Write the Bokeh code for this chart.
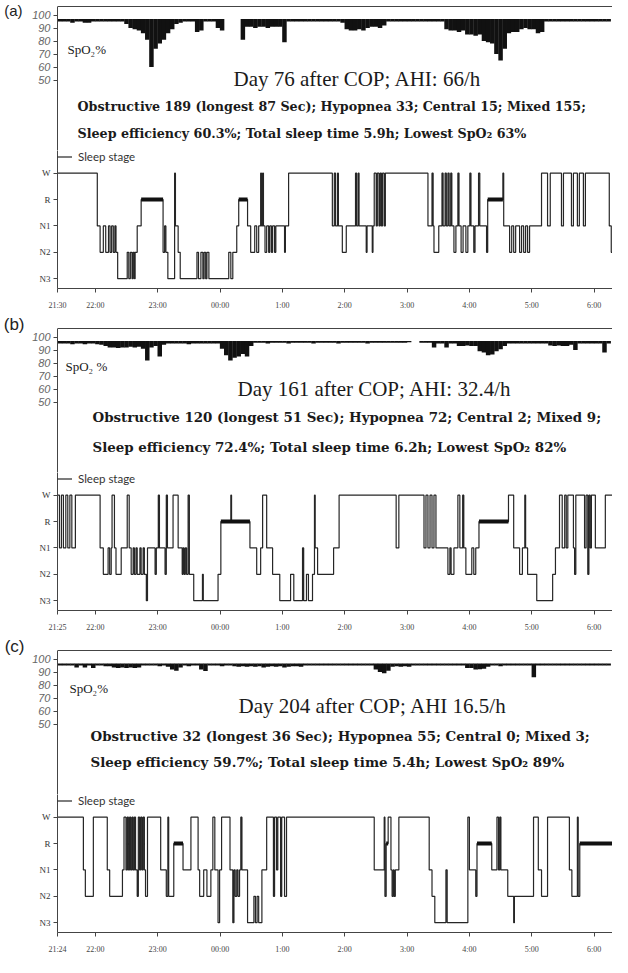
import numpy as np
from bokeh.plotting import figure
from bokeh.models import Range1d, LinearAxis, FixedTicker, Label, ColumnDataSource, Span
from bokeh.layouts import column
from bokeh.embed import file_html
from bokeh.resources import INLINE

# ---------------- data ----------------
stage_names = ["N3", "N2", "N1", "R", "W"]
spo2_ticks = [50, 60, 70, 80, 90, 100]
hour_ticks_min = [60, 120, 180, 240, 300, 360, 420, 480, 540]   # minutes after 21:00
hour_labels = ["22:00", "23:00", "00:00", "1:00", "2:00", "3:00", "4:00", "5:00", "6:00"]
start_labels = ["21:30", "21:25", "21:24"]
panel_tags = ["(a)", "(b)", "(c)"]
spo2_names = ["SpO\u2082%", "SpO\u2082 %", "SpO\u2082%"]
titles = ["Day 76 after COP; AHI: 66/h",
          "Day 161 after COP; AHI: 32.4/h",
          "Day 204 after COP; AHI 16.5/h"]
event_lines = ["Obstructive 189 (longest 87 Sec); Hypopnea 33; Central 15; Mixed 155;",
               "Obstructive 120 (longest 51 Sec); Hypopnea 72; Central 2; Mixed 9;",
               "Obstructive 32 (longest 36 Sec); Hypopnea 55; Central 0; Mixed 3;"]
summary_lines = ["Sleep efficiency 60.3%; Total sleep time 5.9h; Lowest SpO\u2082 63%",
                 "Sleep efficiency 72.4%; Total sleep time 6.2h; Lowest SpO\u2082 82%",
                 "Sleep efficiency 59.7%; Total sleep time 5.4h; Lowest SpO\u2082 89%"]

# SpO2 trace: lowest value in each 4-minute epoch, first epoch at 21:26
spo2_t0_min = 26
spo2_epoch_min = 4
nan = float("nan")
spo2_high = [97.0, 97.0, 96.6]
spo2_low_a = [95, 95, 95, 94, 95, 95, 94, 94, 95, 95, 95, 95, 95, 95, 95, 95,
              93, 90, 89, 88, 86, 81, 60, 74, 78, 81, 86, 89, 93, 94, 95, 95, 95, 87, 88, 95, 95, 95, 90, 88,
              nan, nan, nan, nan,
              81, 91, 91, 90, 91, 91, 90, 91, 91, 91, 79,
              95, 95, 95, 95, 95, 95, 95, 95, 95, 95, 95, 95, 95, 94,
              89, 88, 88, 89, 88, 90, 91, 91, 90, 92,
              95, 95, 95, 95, 95, 95, 95, 95, 95, 95, 95, 95, 95, 95,
              89, 88, 88, 87, 88, 85, 85, 84, 85, 80, 79, 78, 70, 65, 74, 86, 87, 87, 89, 90, 89, 89, 86, 87,
              95, 95, 95, 95, 95, 95, 95, 95, 95, 95, 95, 95, 95, 95, 95, 95]
spo2_low_b = [95, 95, 95, 94.5, 95, 95, 94.5, 95, 95, 94.5,
              94, 93, 92, 92, 91.5, 92, 92, 92.5, 92, 92.5, 91, 82, 92, 93, 85, 94,
              95, 95, 95, 95, 95, 94.5, 95, 95, 95, 95, 95, 95, 95,
              91, 86, 82, 84, 85, 87, 85, 93,
              95.5, 95.5, 95.5, 95, 95.5, 95.5, 95.5, 95.5, 95, 95.5, 95.5, 95.5, 95.5, 95.5, 95, 95.5,
              95.5, 95.5, 95.5, 95.5, 95, 95.5, 95.5, 95.5, 95.5, 95.5, 95.5, 95, 95.5, 95.5, 95.5, 95.5,
              95.5, 95.5, 95.5, 95.5, 95.5, 96,
              nan, nan,
              95.5, 95.5, 95.5,
              92, 95, 95, 92, 95, 95, 93, 93, 93.5, 93, 93, 89, 88, 86, 86.5, 89, 90.5, 93,
              95, 95, 95, 95, 95, 95, 95, 95, 95, 95,
              93.5, 93, 93.5, 93, 93, 94, 90,
              95, 95, 95, 95, 95, 95,
              88, 95]
spo2_low_c = [95, 95, 95, 95, 93.5, 95, 93.5, 95, 93, 95, 95, 94.5, 94.5, 93.5, 93, 93.5, 93, 93.5, 93, 93.5,
              95, 95, 95, 95, 94.5, 95, 94, 92, 91, 93.5,
              95, 94.5, 95, 95, 92, 90.7, 95, 95, 95, 94.5, 95, 95, 94.5, 94, 94.5, 94, 94.5, 94, 94.5, 93.5,
              94, 94.5, 94, 94.5, 93.5, 94, 94.5, 94.5, 94,
              95, 95, 95, 95, 95, 95, 95, 95, 95, 95, 95, 95, 95, 95, 95, 95, 95,
              92, 90, 89, 91, 94, 94.5, 94, 94.5, 94,
              95, 95, 95, 95, 95, 95, 95, 95, 95, 95, 95, 95, 95,
              93, 93, 92, 92.2, 92.5, 94,
              95, 95, 94.5, 95, 95, 95, 95, 95, 95, 95,
              86,
              95, 95, 95, 95, 95, 95, 95, 95, 95, 95, 95, 95, 95, 95, 95, 95, 95, 95]

# Hypnograms: minute (after 21:00) at which each stage begins
hyp_a_min = [23.6, 61.9, 64.6, 67.7, 70.0, 72.7, 74.2, 75.7, 77.3, 78.8, 79.9, 81.5, 90.7, 92.2, 93.7,
             95.3, 96.4, 97.6, 98.3, 100.3, 104.1, 125.2, 126.7, 127.9, 129.8, 136.3, 137.1, 139.7,
             141.7, 157.8, 159.3, 161.6, 163.5, 164.7, 166.2, 167.4, 169.3, 188.4, 190.4, 192.3, 196.1,
             198.0, 206.5, 209.5, 213.4, 215.3, 217.2, 219.1, 219.9, 221.0, 221.8, 223.3, 224.9, 226.8,
             227.9, 229.5, 230.6, 232.5, 233.7, 242.1, 242.9, 246.0, 288.1, 290.0, 291.2, 293.1, 293.9,
             297.7, 301.5, 310.4, 311.5, 313.0, 313.8, 320.7, 321.5, 326.5, 327.2, 328.4, 330.3, 331.4,
             333.0, 334.1, 335.3, 336.4, 338.0, 339.1, 380.1, 384.0, 385.1, 385.9, 390.5, 393.6, 394.7,
             396.6, 397.8, 399.3, 400.5, 402.0, 403.1, 405.1, 407.0, 408.9, 410.0, 412.0, 413.9, 416.6,
             418.5, 420.4, 421.5, 424.2, 425.4, 428.8, 430.0, 436.5, 437.6, 452.2, 453.0, 458.7, 460.7,
             462.6, 464.5, 468.3, 470.2, 472.2, 474.1, 476.0, 477.9, 489.4, 495.2, 497.8, 508.6, 510.5,
             518.2, 520.1, 523.9, 525.8, 529.7, 531.6, 554.6, 556.5]
hyp_a_stage = ["W", "N1", "N2", "N1", "N2", "N1", "N2", "N1", "N2", "N1", "N2", "N3", "N2", "N3", "N2",
               "N3", "N2", "N3", "N2", "N1", "R", "N2", "N1", "N2", "N3", "W", "N1", "N2",
               "N3", "N2", "N3", "N2", "N3", "N2", "N3", "N2", "N3", "N2", "N3", "N2", "N1",
               "R", "N1", "N2", "N1", "N2", "N1", "W", "N1", "W", "N1", "N2", "N1", "N2",
               "N1", "N2", "N1", "N2", "N1", "N2", "N1", "W", "N1", "W", "N1", "W", "N1",
               "N2", "N1", "W", "N1", "W", "N1", "N2", "N1", "N2", "N1", "W", "N1", "W",
               "N1", "W", "N1", "W", "N1", "W", "N1", "W", "N1", "N2", "N1", "W", "N1",
               "W", "N1", "W", "N1", "W", "N1", "N2", "N1", "W", "N1", "N2", "N1", "N2",
               "N1", "W", "N1", "N2", "N1", "W", "N1", "N2", "R", "W", "N1", "N2", "N1",
               "N2", "N1", "N2", "N1", "N2", "N1", "N2", "N1", "W", "N1", "W", "N1", "W",
               "N1", "W", "N1", "W", "N1", "W", "N1", "N2"]
hyp_b_min = [23.6, 25.5, 27.4, 29.3, 31.6, 33.5, 35.5, 37.4, 40.8, 64.6, 67.7, 72.3, 73.8, 75.3, 76.1,
             78.4, 79.9, 84.9, 90.7, 92.6, 94.5, 96.4, 97.6, 99.1, 100.3, 102.9, 104.1, 106.0, 107.2,
             109.1, 110.2, 117.5, 118.7, 120.6, 121.7, 127.1, 128.3, 129.4, 134.8, 139.7, 143.6, 144.4,
             145.5, 146.6, 147.8, 149.3, 150.5, 154.7, 163.1, 163.9, 178.1, 180.8, 190.4, 191.1, 208.8,
             215.3, 219.1, 221.0, 224.9, 230.6, 237.5, 247.9, 251.0, 259.4, 260.5, 263.2, 265.1, 269.0,
             270.9, 271.6, 273.9, 289.3, 294.6, 349.5, 352.1, 376.3, 378.2, 380.1, 382.1, 384.0, 385.9,
             387.8, 399.3, 401.2, 402.4, 405.1, 408.9, 410.8, 413.5, 414.6, 416.6, 422.3, 424.2, 426.1,
             429.2, 457.6, 462.6, 468.3, 471.0, 473.3, 474.1, 476.0, 484.8, 500.1, 502.8, 506.7, 509.3,
             511.7, 513.2, 514.7, 520.1, 521.2, 522.4, 530.8, 532.3, 533.9, 535.0, 536.2, 537.4, 541.2,
             550.8]
hyp_b_stage = ["W", "N1", "W", "N1", "W", "N1", "W", "N1", "W", "N1", "N2", "N1", "N2", "N1", "W",
               "N1", "N2", "N1", "W", "N1", "N2", "N1", "N2", "N1", "N2", "N1", "N2", "N1", "N2",
               "N3", "N1", "N2", "N1", "W", "N1", "N2", "W", "N1", "W", "N1", "N2", "N1",
               "N2", "N1", "N2", "W", "N2", "N3", "N2", "N3", "N2", "R", "W", "R", "N1",
               "N2", "N1", "W", "N1", "N2", "N3", "N2", "N3", "N1", "N3", "N2", "N3", "N2",
               "W", "N1", "N2", "N1", "W", "N1", "W", "N1", "W", "N1", "W", "N1", "W",
               "N1", "N2", "N1", "N2", "N1", "W", "N1", "W", "N1", "N2", "N1", "N2", "N1",
               "R", "W", "N1", "N2", "N1", "W", "N1", "N2", "N3", "N2", "N1", "W", "N1",
               "W", "N1", "W", "N1", "N2", "W", "N1", "W", "N2", "W", "N1", "W", "N1",
               "W"]
hyp_c_min = [23.6, 48.5, 50.4, 58.1, 71.5, 73.8, 86.1, 87.6, 89.5, 90.7, 91.8, 93.0, 94.1, 95.3, 96.4,
             97.6, 98.7, 100.3, 101.4, 102.6, 103.7, 104.9, 106.0, 107.2, 108.3, 110.2, 122.9, 128.3,
             129.8, 130.6, 135.5, 144.4, 152.0, 158.9, 160.4, 164.3, 167.4, 171.2, 173.1, 175.0, 178.1,
             179.6, 181.5, 189.6, 192.3, 193.4, 194.6, 196.1, 197.3, 198.8, 200.0, 201.1, 206.5, 212.6,
             214.1, 215.7, 217.2, 220.3, 224.9, 231.4, 232.5, 234.4, 235.6, 238.3, 239.4, 242.1, 244.0,
             328.4, 338.0, 338.7, 339.9, 341.8, 344.5, 345.6, 346.8, 347.6, 348.7, 352.1, 381.3, 384.0,
             386.7, 397.4, 398.6, 418.5, 420.0, 426.1, 427.3, 441.5, 446.5, 448.0, 449.2, 450.3, 456.9,
             462.6, 463.3, 481.7, 486.3, 489.4, 495.2, 516.2, 518.6, 523.9, 524.7, 526.2]
hyp_c_stage = ["W", "N1", "N2", "W", "N1", "N2", "N1", "W", "N1", "W", "N1", "W", "N1", "W", "N1",
               "W", "N1", "N2", "W", "N1", "W", "N1", "W", "N1", "N2", "W", "N1", "N2",
               "W", "N2", "R", "N1", "W", "N1", "N2", "N1", "N2", "N1", "W", "N1", "N3",
               "N1", "W", "N1", "N3", "N1", "N2", "N1", "N2", "N1", "W", "N1", "N3", "N2",
               "N3", "N2", "N3", "N1", "W", "N2", "W", "N1", "W", "N2", "W", "N2", "W",
               "N1", "W", "N2", "R", "W", "N1", "N2", "N1", "N2", "N1", "W", "N1", "N2",
               "N3", "N1", "N3", "W", "N1", "N2", "R", "N1", "W", "N1", "W", "N1", "N2",
               "N3", "N2", "W", "N1", "N2", "W", "N1", "N2", "W", "N2", "R"]
# Dense REM stretches, drawn as a heavy bar
rem_dense_start = [[104.1, 198.0, 437.6], [180.8, 429.2], [135.5, 339.9, 427.3, 526.2]]
rem_dense_end = [[125.2, 206.5, 452.2], [208.8, 457.6], [144.4, 341.8, 441.5, 560.0]]

# ---------------- layout constants (pixels / axis geometry) ----------------
X0, X1 = 23.6, 557.7          # visible time window, minutes after 21:00
FIG_W = 612
LEFT = 54
PX_PER_PCT = 1.3
TOP_PX = 8.5                  # distance from box top to the 100 % tick
SPLIT_PX = 144                # box top -> top of hypnogram panel
BOT_FRAME = 140
BOT_BORDER = 22
EXTRA_TOP = [6, 16, 16]       # room above the box for the panel letter
BOX_TOP_V = 100 + TOP_PX / PX_PER_PCT
SPLIT_V = BOX_TOP_V - SPLIT_PX / PX_PER_PCT
AX_COL = "#444444"
TXT = "#1a1a1a"
BOLD_FONT = "DejaVu Serif"
BOLD_SIZE = ["12.7px", "13.4px", "13.4px"]

spo2_lows = [spo2_low_a, spo2_low_b, spo2_low_c]
hyp_min = [hyp_a_min, hyp_b_min, hyp_c_min]
hyp_stage = [hyp_a_stage, hyp_b_stage, hyp_c_stage]
stage_level = {name: i for i, name in enumerate(stage_names)}

# per-panel text placement: (x offset from frame left px, px below box top)
tag_rel = [3.5, -9.3, -9.3]
tag_size = ["15px", "17px", "17px"]
tag_standoff = [7, 5, 5]
spo2_lab = [(10, 43), (8, 38.4), (12, 38.4)]
title_pos = [(176, 72), (180, 60), (181, 55)]
event_pos = [(20, 100), (35, 88.4), (33, 85)]
summ_pos = [(20, 127), (35, 118.4), (33, 111.7)]


def v(rel):
    return BOX_TOP_V - rel / PX_PER_PCT


def make_panel(k):
    frame_h = SPLIT_PX + EXTRA_TOP[k]
    top = figure(width=FIG_W, height=frame_h,
                 x_range=Range1d(X0, X1), y_range=Range1d(SPLIT_V, v(-EXTRA_TOP[k])),
                 x_axis_type=None, y_axis_type=None, output_backend="svg",
                 toolbar_location=None, min_border_left=LEFT, min_border_right=0,
                 min_border_top=0, min_border_bottom=0)
    top.outline_line_color = None
    lows = spo2_lows[k]
    t = spo2_t0_min + spo2_epoch_min * np.arange(len(lows))
    src = ColumnDataSource(dict(t=t, lo=np.array(lows, dtype=float)))
    top.vbar(x="t", width=spo2_epoch_min * 1.08, top=spo2_high[k], bottom="lo", source=src,
             fill_color="#111111", line_color=None)

    yax = LinearAxis(ticker=FixedTicker(ticks=spo2_ticks), bounds=(SPLIT_V, BOX_TOP_V),
                     major_tick_out=4, major_tick_in=0, minor_tick_out=0, minor_tick_in=0,
                     major_label_standoff=3, axis_line_color=AX_COL, major_tick_line_color=AX_COL,
                     major_label_text_font="Liberation Sans", major_label_text_font_style="italic",
                     major_label_text_font_size="11px", major_label_text_color="#666666")
    top.add_layout(yax, "left")
    tag_v = v(tag_rel[k])
    tagax = LinearAxis(ticker=FixedTicker(ticks=[tag_v]), major_label_overrides={tag_v: panel_tags[k]},
                       major_tick_out=0, major_tick_in=0, minor_tick_out=0, minor_tick_in=0,
                       major_label_standoff=tag_standoff[k], axis_line_color=None,
                       major_tick_line_color=None,
                       major_label_text_font="Liberation Sans", major_label_text_font_size=tag_size[k],
                       major_label_text_color="#222222")
    top.add_layout(tagax, "left")
    top.add_layout(Span(location=BOX_TOP_V, dimension="width", line_color=AX_COL, line_width=1))

    top.add_layout(Label(x=X0, y=v(spo2_lab[k][1]), x_offset=spo2_lab[k][0], text=spo2_names[k],
                         text_font="Liberation Serif", text_font_size="13px",
                         text_color=TXT, text_baseline="middle"))
    top.add_layout(Label(x=X0, y=v(title_pos[k][1]), x_offset=title_pos[k][0], text=titles[k],
                         text_font="Liberation Serif", text_font_size="21px",
                         text_color=TXT, text_baseline="middle"))
    top.add_layout(Label(x=X0, y=v(event_pos[k][1]), x_offset=event_pos[k][0], text=event_lines[k],
                         text_font=BOLD_FONT, text_font_size=BOLD_SIZE[k],
                         text_font_style="bold", text_color=TXT, text_baseline="middle"))
    top.add_layout(Label(x=X0, y=v(summ_pos[k][1]), x_offset=summ_pos[k][0], text=summary_lines[k],
                         text_font=BOLD_FONT, text_font_size=BOLD_SIZE[k],
                         text_font_style="bold", text_color=TXT, text_baseline="middle"))

    # hypnogram: W 23 px below panel top, N3 10 px above its bottom
    unit = (BOT_FRAME - 23 - 10) / 4.0
    bot = figure(width=FIG_W, height=BOT_FRAME + BOT_BORDER,
                 x_range=top.x_range, y_range=Range1d(-10 / unit, 4 + 23 / unit),
                 x_axis_type=None, y_axis_type=None, output_backend="svg",
                 toolbar_location=None, min_border_left=LEFT, min_border_right=0,
                 min_border_top=0, min_border_bottom=BOT_BORDER)
    bot.outline_line_color = None
    xs = list(hyp_min[k]) + [X1 + 5]
    ys = [stage_level[s] for s in hyp_stage[k]]
    ys = ys + [ys[-1]]
    bot.step(x=xs, y=ys, mode="after", line_color="#262626", line_width=1.2,
             legend_label="Sleep stage")
    rs, re_ = rem_dense_start[k], rem_dense_end[k]
    bot.segment(x0=rs, x1=re_, y0=[stage_level["R"]] * len(rs), y1=[stage_level["R"]] * len(rs),
                line_color="#111111", line_width=4)

    sax = LinearAxis(ticker=FixedTicker(ticks=list(range(len(stage_names)))),
                     major_label_overrides={i: n for i, n in enumerate(stage_names)},
                     major_tick_out=4, major_tick_in=0, minor_tick_out=0, minor_tick_in=0,
                     major_label_standoff=3, axis_line_color=AX_COL, major_tick_line_color=AX_COL,
                     major_label_text_font="Liberation Serif", major_label_text_font_size="9px",
                     major_label_text_color="#333333")
    bot.add_layout(sax, "left")
    tick_pos = [X0] + hour_ticks_min
    tick_lab = [start_labels[k]] + hour_labels
    tax = LinearAxis(ticker=FixedTicker(ticks=tick_pos),
                     major_label_overrides={p: l for p, l in zip(tick_pos, tick_lab)},
                     major_tick_out=4, major_tick_in=0, minor_tick_out=0, minor_tick_in=0,
                     major_label_standoff=8, axis_line_color=AX_COL, major_tick_line_color=AX_COL,
                     major_label_text_font="Liberation Serif", major_label_text_font_size="8px",
                     major_label_text_color="#444444")
    bot.add_layout(tax, "below")

    lg = bot.legend[0]
    lg.location = "top_left"
    lg.border_line_color = None
    lg.background_fill_alpha = 0
    lg.margin = 0
    lg.padding = 0
    lg.spacing = 0
    lg.label_standoff = 6
    lg.glyph_width = 15
    lg.glyph_height = 13
    lg.label_height = 13
    lg.label_text_font = "Lato"
    lg.label_text_font_size = "11.5px"
    lg.label_text_color = "#333333"
    return [top, bot]


figs = []
for k in range(3):
    figs += make_panel(k)

layout = column(*figs, spacing=0)
open("out.html", "w").write(file_html(layout, INLINE))
